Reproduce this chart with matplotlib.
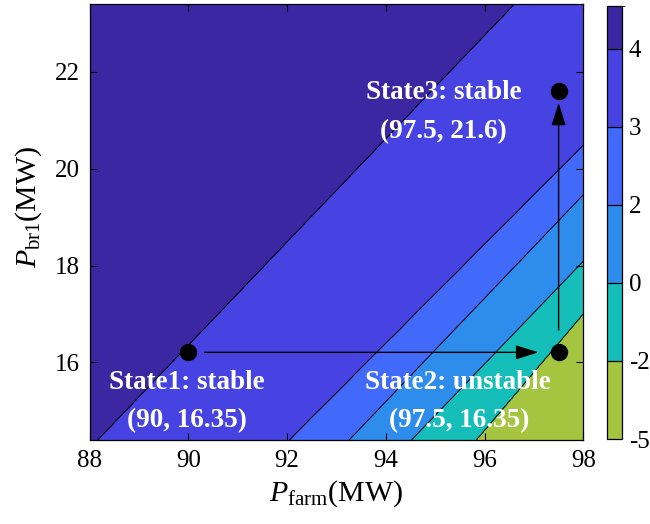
import matplotlib
matplotlib.use('Agg')
import matplotlib.pyplot as plt
import matplotlib.colors as mcolors
import matplotlib.cm as cm
import numpy as np

plt.rcParams['font.family'] = 'Liberation Serif'
plt.rcParams['mathtext.fontset'] = 'custom'
plt.rcParams['mathtext.rm'] = 'Liberation Serif'
plt.rcParams['mathtext.it'] = 'Liberation Serif:italic'

# Stability margin contour levels and fill colours (low -> high)
levels = [-5, -2, 0, 2, 3, 4, 5]
fill_colors = ['#a5c540', '#15beb8', '#2d8cec', '#4169fa', '#4643e2', '#3c27a3']

# Contour boundaries: level value, two points on each line
line_levels = [-2, 0, 2, 3, 4]
line_x0 = [95.83, 94.52, 93.26, 92.05, 88.17]
line_y0 = [14.4, 14.4, 14.4, 14.4, 14.4]
line_x1 = [98.0, 98.0, 98.0, 98.0, 96.61]
line_y1 = [17.01, 18.09, 19.46, 20.48, 23.4]

# Operating points
state_x = [90.0, 97.5, 97.5]
state_y = [16.21, 16.21, 21.61]
state_names = ['State1: stable', 'State2: unstable', 'State3: stable']
state_coords = ['(90, 16.35)', '(97.5, 16.35)', '(97.5, 21.6)']

xlim = (88, 98)
ylim = (14.4, 23.4)

# build the field column by column from the boundary lines
xg = np.linspace(xlim[0], xlim[1], 401)
yg = np.linspace(ylim[0], ylim[1], 361)
Z = np.zeros((len(yg), len(xg)))
slopes = [(b1 - a1) / (b0 - a0) for a0, a1, b0, b1 in zip(line_x0, line_y0, line_x1, line_y1)]
for j, xv in enumerate(xg):
    yl = [y0 + (xv - x0) * s for x0, y0, s in zip(line_x0, line_y0, slopes)]
    xp = [yl[0] - 10] + yl + [yl[-1] + 10]
    fp = [levels[0]] + line_levels + [levels[-1]]
    Z[:, j] = np.interp(yg, xp, fp)
X, Y = np.meshgrid(xg, yg)

fig = plt.figure(figsize=(6.5, 5.24), dpi=100)
ax = fig.add_axes([89.5 / 650, 1 - 440 / 524, 493.8 / 650, 436 / 524])
cax = fig.add_axes([607.3 / 650, 1 - 439 / 524, 14.7 / 650, 433 / 524])

ax.contourf(X, Y, Z, levels=levels, colors=fill_colors)
ax.contour(X, Y, Z, levels=line_levels, colors='k', linewidths=0.7,
           linestyles='solid')

ax.plot(state_x, state_y, 'o', color='k', markersize=11.5, zorder=5)

arrow_kw = dict(arrowstyle='-|>,head_length=0.7,head_width=0.22', color='k',
                lw=1.0, mutation_scale=20, shrinkA=0, shrinkB=0)
ax.annotate('', xy=(97.09, state_y[1]), xytext=(90.33, state_y[0]), arrowprops=arrow_kw)
ax.annotate('', xy=(97.5, 21.36), xytext=(97.5, 16.67), arrowprops=arrow_kw)

name_pos = [(89.97, 15.58), (95.46, 15.58), (95.18, 21.57)]
coord_pos = [(89.97, 14.8), (95.48, 14.8), (95.16, 20.77)]
for name, coord, (nx, ny), (cx, cy) in zip(state_names, state_coords, name_pos, coord_pos):
    ax.text(nx, ny, name, color='white', fontsize=19.5, fontweight='bold',
            ha='center', va='center')
    ax.text(cx, cy, coord, color='white', fontsize=19.5, fontweight='bold',
            ha='center', va='center')

ax.set_xlim(*xlim)
ax.set_ylim(*ylim)
ax.set_xticks([88, 90, 92, 94, 96, 98])
ax.set_yticks([16, 18, 20, 22])
ax.tick_params(direction='in', top=True, right=True, length=5, width=0.8,
               labelsize=18, pad=7)
for s in ax.spines.values():
    s.set_linewidth(0.9)

ax.set_xlabel(r'$P_{\mathrm{farm}}$(MW)', fontsize=21.5)
ax.set_ylabel(r'$P_{\mathrm{br1}}$(MW)', fontsize=21.5)
ax.xaxis.set_label_coords(0.5, -0.088)
ax.yaxis.set_label_coords(-0.093, 0.535)

# colorbar with equal-height segments, top one shorter
cbar_bounds = [0, 1, 2, 3, 4, 5, 5.55]
cmap = mcolors.ListedColormap(fill_colors)
norm = mcolors.BoundaryNorm(cbar_bounds, cmap.N)
cb = fig.colorbar(cm.ScalarMappable(norm=norm, cmap=cmap), cax=cax,
                  spacing='proportional', drawedges=True)
cb.set_ticks(cbar_bounds[:-1])
cb.set_ticklabels([str(v) for v in levels[:-1]])
cb.ax.tick_params(labelsize=18, length=0, pad=5)
cb.outline.set_linewidth(0.9)
cb.dividers.set_linewidth(0.9)

fig.savefig('out.png', dpi=100)
